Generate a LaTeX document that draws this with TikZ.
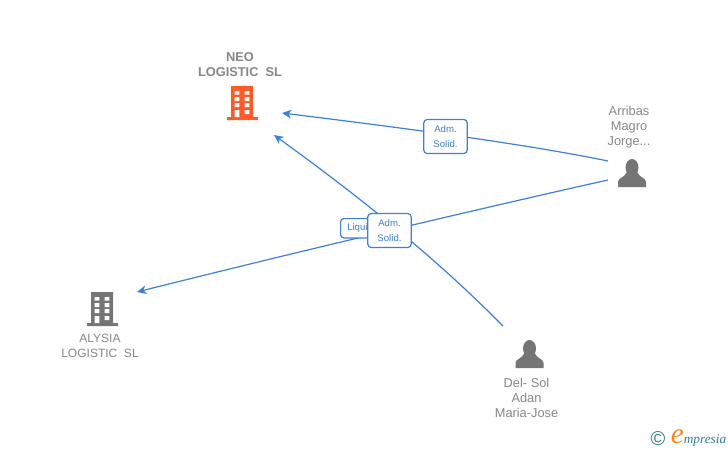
\documentclass[tikz,border=0pt]{standalone}
\usepackage{fontspec}
\setmainfont{Liberation Sans}
\newfontfamily\logofont{Liberation Serif}
\usetikzlibrary{arrows.meta}
\definecolor{linkblue}{HTML}{3D7FDC}
\definecolor{textgrey}{HTML}{868686}
\definecolor{icongrey}{HTML}{757575}
\definecolor{iconorange}{HTML}{FF5A27}
\definecolor{logoteal}{HTML}{2F7F95}
\definecolor{logoorange}{HTML}{F28A1E}
\tikzset{every picture/.style={line width=0.75pt}}
\tikzset{
  link/.style={draw=linkblue,line width=0.9pt},
  linkarrow/.style={link,-{Stealth[length=7pt,width=6.5pt,inset=2pt]}},
  rolebox/.style={draw=linkblue,line width=0.9pt,fill=white,rounded corners=2.5pt,text=linkblue,font=\fontsize{7.2}{11.2}\selectfont,align=center,inner sep=0pt},
  namelabel/.style={text=textgrey,font=\fontsize{9}{11.2}\selectfont,align=center,inner sep=0pt},
  pics/buildingicon/.style={code={
    \fill[#1] (4,0) -- (26,0) -- (26,31) -- (31,31) -- (31,34) -- (0,34) -- (0,31) -- (4,31) -- cycle ;
    \fill[white] (7.7,5) rectangle (12.3,8.7) (17.7,5) rectangle (22.3,8.7) (7.7,11) rectangle (12.3,15) (17.7,11) rectangle (22.3,15) (7.7,17) rectangle (12.3,21) (17.7,17) rectangle (22.3,21) (7.7,24) rectangle (12.3,31) (17.7,24) rectangle (22.3,28) ;
  }},
  pics/personicon/.style={code={
    \fill[#1] (0,8.5) ellipse (6.5 and 8.5) ;
    \fill[#1] (-14,28) -- (-14,23) .. controls (-14,19) and (-8,19) .. (-5,13) -- (5,13) .. controls (8,19) and (14,19) .. (14,23) -- (14,28) -- cycle ;
  }}
}
\begin{document}
\begin{tikzpicture}[x=0.75pt,y=0.75pt,yscale=-1,xscale=1]
\useasboundingbox (0,0) rectangle (728,450);

%Free ends of the links
\coordinate (arribasTop) at (608,161);
\coordinate (arribasLow) at (608,180);
\coordinate (delsolEnd) at (503,326);
\coordinate (neoRight) at (282,113);
\coordinate (neoLow) at (274,135);
\coordinate (alysiaEnd) at (137,292);

%Straight Lines
\draw [linkarrow] (arribasTop) .. controls (530,145) and (420,130) .. (neoRight) ;
\draw [linkarrow] (arribasLow) .. controls (500,204) and (300,251) .. (alysiaEnd) ;
\draw [linkarrow] (delsolEnd) .. controls (430,252) and (350,190) .. (neoLow) ;

%Shape: Icons
\draw (227,86) pic [transform shape] (neoIcon) {buildingicon=iconorange};
\draw (87,292) pic [transform shape] (alysiaIcon) {buildingicon=icongrey};
\draw (632,159) pic [transform shape] (arribasIcon) {personicon=icongrey};
\draw (529.5,340) pic [transform shape] (delsolIcon) {personicon=icongrey};

% Text Node
\draw (340,218) node [rolebox,anchor=north west,minimum width=45pt,minimum height=14.5pt,text width=45pt,align=left] (liquBox) {\hspace{5pt}Liquid.};
\draw (445.5,136.5) node [rolebox,minimum width=32.5pt,minimum height=25.5pt] (admBoxTop) {Adm.\\Solid.};
\draw (389.5,230.5) node [rolebox,minimum width=32.5pt,minimum height=25.5pt] (admBoxLow) {Adm.\\Solid.};
% Text Node
\draw (240,65) node [namelabel,font=\fontsize{9.6}{11.2}\selectfont\bfseries] (neoLabel) {NEO\\LOGISTIC\ \ SL};
\draw (100,346) node [namelabel] (alysiaLabel) {ALYSIA\\LOGISTIC\ \ SL};
\draw (629,127) node [namelabel,font=\fontsize{9.6}{11.2}\selectfont] (arribasLabel) {Arribas\\Magro\\Jorge...};
\draw (526.5,398) node [namelabel,font=\fontsize{9.6}{11.2}\selectfont] (delsolLabel) {Del- Sol\\Adan\\Maria-Jose};
% Text Node
\draw (658,439) node [text=logoteal,font=\fontsize{15}{15}\selectfont,inner sep=0pt] (logoMark) {©};
\draw (698.5,438) node [inner sep=0pt,font=\logofont\itshape] (logoName) {\textcolor{logoorange}{\fontsize{22}{22}\selectfont e}\textcolor{logoteal}{\fontsize{10}{10}\selectfont mpresia}};

\end{tikzpicture}
\end{document}
